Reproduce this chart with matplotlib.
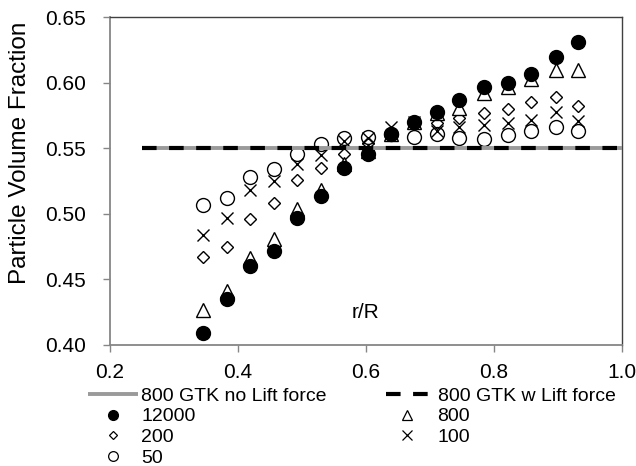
import matplotlib
matplotlib.use("Agg")
import matplotlib.pyplot as plt
from matplotlib.lines import Line2D
from matplotlib.ticker import FormatStrFormatter

plt.rcParams['font.family'] = ['Liberation Sans', 'DejaVu Sans']

# Data
r_R = [0.345, 0.383, 0.419, 0.456, 0.493, 0.530, 0.566, 0.603, 0.640,
       0.675, 0.711, 0.746, 0.785, 0.822, 0.858, 0.897, 0.931]
s12000 = [0.409, 0.435, 0.460, 0.472, 0.497, 0.514, 0.535, 0.546, 0.561,
          0.570, 0.578, 0.587, 0.597, 0.600, 0.607, 0.620, 0.631]
s800 = [0.427, 0.441, 0.466, 0.481, 0.504, 0.518, 0.538, 0.548, 0.561,
        0.570, 0.577, 0.581, 0.592, 0.597, 0.603, 0.610, 0.610]
s200 = [0.467, 0.475, 0.496, 0.508, 0.526, 0.535, 0.546, 0.554, 0.561,
        0.570, 0.569, 0.573, 0.577, 0.580, 0.585, 0.589, 0.582]
s100 = [0.484, 0.497, 0.518, 0.525, 0.538, 0.545, 0.556, 0.558, 0.566,
        0.570, 0.563, 0.566, 0.568, 0.569, 0.572, 0.578, 0.571]
s50 = [0.507, 0.512, 0.528, 0.534, 0.546, 0.553, 0.558, 0.559, 0.561,
       0.559, 0.561, 0.558, 0.557, 0.560, 0.563, 0.566, 0.563]
line_x = [0.25, 1.0]
no_lift_y = [0.55, 0.55]
w_lift_y = [0.55, 0.55]

x_ticks = [0.2, 0.4, 0.6, 0.8, 1.0]
x_tick_labels = ["0.2", "0.4", "0.6", "0.8", "1.0"]
y_ticks = [0.40, 0.45, 0.50, 0.55, 0.60, 0.65]

GREY = '#9a9a9a'
AX = '#868686'

fig = plt.figure(figsize=(6.36, 4.66), dpi=100)
ax = fig.add_axes([0.1725, 0.2597, 0.805, 0.7032])

mew = 1.0
ax.plot(r_R, s50, 'o', ms=10, mfc='none', mec='black', mew=mew, zorder=3)
ax.plot(r_R, s100, 'x', ms=9, mec='black', mew=mew, zorder=3)
ax.plot(r_R, s200, 'D', ms=6.6, mfc='none', mec='black', mew=mew, zorder=3)
ax.plot(r_R, s800, '^', ms=9.5, mfc='white', mec='black', mew=mew, zorder=3)
ax.plot(r_R, s12000, 'o', ms=10, mfc='black', mec='black', mew=mew, zorder=4)

ax.plot(line_x, no_lift_y, '-', color=GREY, lw=2.8, zorder=5, solid_capstyle='butt')
ax.plot(line_x, w_lift_y, color='black', lw=3, ls=(0, (3.5, 3)), zorder=6,
        dash_capstyle='butt')

ax.set_xlim(0.2, 1.0)
ax.set_ylim(0.40, 0.65)
ax.set_xticks(x_ticks)
ax.set_xticklabels(x_tick_labels)
ax.set_yticks(y_ticks)
ax.yaxis.set_major_formatter(FormatStrFormatter('%.2f'))
ax.tick_params(axis='both', direction='out', length=5, width=1, color=AX,
               labelsize=15, labelcolor='black')
ax.tick_params(axis='y', pad=12)
ax.tick_params(axis='x', pad=8)

for s in ['left', 'bottom']:
    ax.spines[s].set_color(AX)
    ax.spines[s].set_linewidth(1.3)
for s in ['top', 'right']:
    ax.spines[s].set_color('#404040')
    ax.spines[s].set_linewidth(1.0)

ax.text(0.578, 0.4244, 'r/R', ha='left', va='center', fontsize=15)
fig.text(20 / 636, 1 - 153 / 466, 'Particle Volume Fraction', rotation=90,
         ha='center', va='center', fontsize=17.5)

# Legends
h_no = Line2D([], [], color=GREY, lw=2.8, solid_capstyle='butt')
h_w = Line2D([], [], color='black', lw=3, ls=(0, (3.5, 3)), dash_capstyle='butt')
h12000 = Line2D([], [], ls='none', marker='o', ms=7, mfc='black', mec='black')
h800 = Line2D([], [], ls='none', marker='^', ms=6.5, mfc='white', mec='black', mew=0.9)
h200 = Line2D([], [], ls='none', marker='D', ms=4.2, mfc='none', mec='black', mew=0.9)
h100 = Line2D([], [], ls='none', marker='x', ms=6.5, mec='black', mew=0.9)
h50 = Line2D([], [], ls='none', marker='o', ms=7, mfc='none', mec='black', mew=0.9)

leg1 = fig.legend([h_no, h12000, h200, h50],
                  ['800 GTK no Lift force', '12000', '200', '50'],
                  loc='upper left', bbox_to_anchor=(88 / 636, 1 - 387 / 466),
                  frameon=False, fontsize=14, handlelength=2.55,
                  handletextpad=0.2, labelspacing=0.16, borderpad=0,
                  borderaxespad=0)
leg2 = fig.legend([h_w, h800, h100],
                  ['800 GTK w Lift force', '800', '100'],
                  loc='upper left', bbox_to_anchor=(386 / 636, 1 - 387 / 466),
                  frameon=False, fontsize=14, handlelength=2.2,
                  handletextpad=0.45, labelspacing=0.16, borderpad=0,
                  borderaxespad=0)

fig.savefig('out.png', dpi=100)
